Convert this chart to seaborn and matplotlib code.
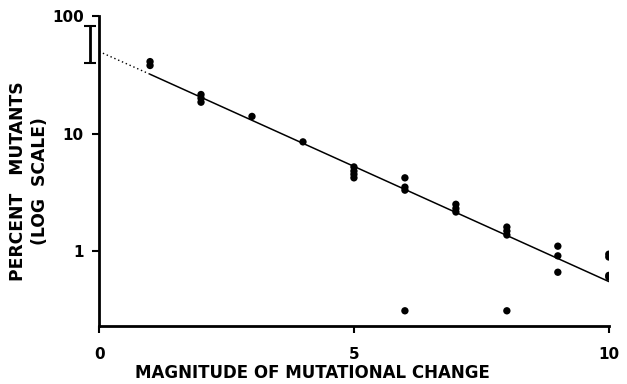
import matplotlib
matplotlib.use("Agg")
import matplotlib.pyplot as plt
import seaborn as sns
import pandas as pd

# magnitude of mutational change and percent mutants
x_vals = [1, 1, 2, 2, 2, 3, 4, 5, 5, 5, 5, 6, 6, 6, 6, 7, 7, 7, 8, 8, 8, 8, 9, 9, 9, 10, 10, 10, 10]
y_vals = [41, 38, 21.5, 20, 18.5, 14, 8.5, 5.2, 4.8, 4.5, 4.2, 4.2, 3.5, 3.3, 0.31,
          2.5, 2.3, 2.15, 1.6, 1.48, 1.37, 0.31, 1.10, 0.91, 0.66, 0.94, 0.89, 0.62, 0.60]

# fitted line: dotted extrapolation to 0, solid over the data
fit_x = [0, 1, 10]
fit_y = [50, 32, 0.55]

# range bar drawn at the left of the axis
bar_x = -0.17
bar_lo, bar_hi = 40, 82

sns.set_style("ticks", rc={"axes.edgecolor": "black", "text.color": "black",
                           "xtick.color": "black", "ytick.color": "black",
                           "axes.labelcolor": "black"})
plt.rcParams["font.family"] = ["DejaVu Sans"]
plt.rcParams["font.weight"] = "bold"

df = pd.DataFrame({"x": x_vals, "y": y_vals})

fig = plt.figure(figsize=(6.27, 3.84), dpi=100)
ax = fig.add_axes([0.158, 0.151, 0.813, 0.807])

ax.set_yscale("log")
sns.lineplot(x=fit_x[:2], y=fit_y[:2], ax=ax, color="black", lw=1, linestyle=(0, (1, 2)))
sns.lineplot(x=fit_x[1:], y=fit_y[1:], ax=ax, color="black", lw=1.1)
sns.scatterplot(data=df, x="x", y="y", ax=ax, color="black", s=28, edgecolor="none", zorder=3)

bar_mid = (bar_lo * bar_hi) ** 0.5
ax.errorbar([bar_x], [bar_mid], yerr=[[bar_mid - bar_lo], [bar_hi - bar_mid]],
            fmt="none", ecolor="black", elinewidth=2, capsize=4, capthick=1.5, clip_on=False)

ax.set_xlim(0, 10)
ax.set_ylim(0.23, 100)
ax.set_xticks([0, 5, 10])
ax.set_xticklabels(["0", "5", "10"])
ax.set_yticks([1, 10, 100])
ax.set_yticklabels(["1", "10", "100"])
ax.minorticks_off()
ax.tick_params(axis="both", direction="out", length=5, width=1.5, labelsize=11)
ax.tick_params(axis="x", pad=10)
ax.tick_params(axis="y", pad=6)

sns.despine(ax=ax)
for s in ["left", "bottom"]:
    ax.spines[s].set_linewidth(2)

ax.set_xlabel("")
ax.set_ylabel("")
fig.text(312 / 627, 1 - 373 / 384, "MAGNITUDE OF MUTATIONAL CHANGE", fontsize=12,
         fontweight="bold", ha="center", va="center")
fig.text(29 / 627, 1 - 181 / 384, "PERCENT   MUTANTS\n(LOG  SCALE)", fontsize=12.3,
         fontweight="bold", ha="center", va="center", rotation=90, linespacing=1.3)

fig.savefig("out.png", dpi=100)
